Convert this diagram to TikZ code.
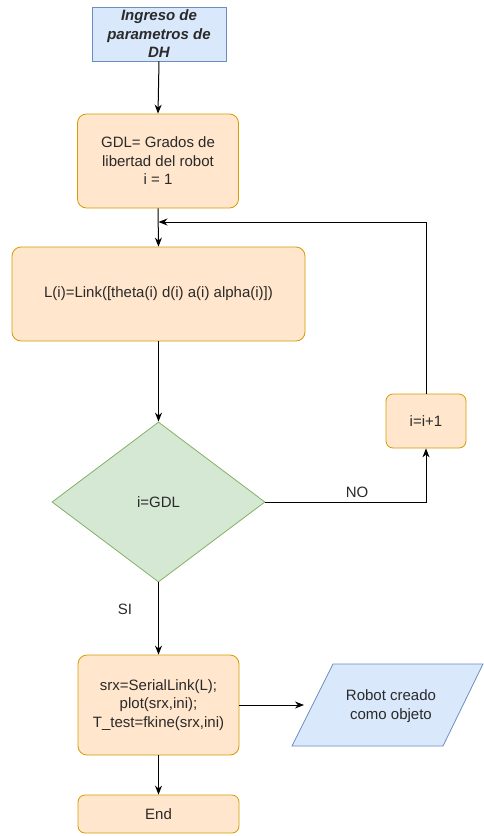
\documentclass[tikz,border=0pt]{standalone}
\usepackage{fontspec}
\setmainfont{Liberation Sans}
\usetikzlibrary{arrows.meta,shapes.geometric}
\definecolor{bluefill}{HTML}{DAE8FC}
\definecolor{bluedraw}{HTML}{6C8EBF}
\definecolor{orangefill}{HTML}{FFE6CC}
\definecolor{orangedraw}{HTML}{D79B00}
\definecolor{greenfill}{HTML}{D5E8D4}
\definecolor{greendraw}{HTML}{82B366}
\definecolor{txt}{HTML}{2A2A2A}
\begin{document}
\begin{tikzpicture}[x=1pt,y=-1pt,
  every node/.style={font=\fontsize{15}{18.5}\selectfont, text=txt, align=center, inner sep=0pt},
  iobox/.style={draw=bluedraw, fill=bluefill, line width=0.8pt},
  procbox/.style={draw=orangedraw, fill=orangefill, line width=0.8pt, rounded corners=9pt},
  decbox/.style={draw=greendraw, fill=greenfill, line width=0.8pt},
  flow/.style={draw=black, line width=1pt, -{Stealth[length=9pt,width=7pt]}},
  lbl/.style={font=\fontsize{15}{18}\selectfont}
]
\useasboundingbox (0,0) rectangle (483,836);

% input parameters
\node[iobox, minimum width=134pt, minimum height=54pt, font=\fontsize{15}{18.5}\selectfont\bfseries\itshape]
  (ingreso) at (159,34) {Ingreso de\\parametros de\\DH};

% initialisation
\node[procbox, minimum width=161pt, minimum height=94pt] (gdl) at (158,161)
  {GDL= Grados de\\libertad del robot\\i = 1};

% link definition
\node[procbox, minimum width=293pt, minimum height=94pt] (link) at (158.5,294)
  {L(i)=Link([theta(i) d(i) a(i) alpha(i)])};

% decision
\node[decbox, diamond, minimum width=213pt, minimum height=160pt, aspect=1.33] (dec) at (158.5,502) {i=GDL};

% increment
\node[procbox, rounded corners=7pt, minimum width=80pt, minimum height=54pt] (inc) at (426,421) {i=i+1};

% serial link creation
\node[procbox, minimum width=161pt, minimum height=100pt] (srx) at (158.5,705)
  {srx=SerialLink(L);\\plot(srx,ini);\\T\_test=fkine(srx,ini)};

% end
\node[procbox, rounded corners=7pt, minimum width=161pt, minimum height=38pt] (fin) at (158.5,814) {End};

% output parallelogram
\coordinate (p1) at (333,664);
\coordinate (p2) at (483,664);
\coordinate (p3) at (443,746);
\coordinate (p4) at (292,746);
\draw[iobox] (p1) -- (p2) -- (p3) -- (p4) -- cycle;
\node (robot) at (391,706) {Robot creado\\como objeto};
\coordinate (robotin) at (304,705);

% connectors
\draw[flow] (ingreso.south) -- (gdl.north);
\draw[flow] (gdl.south) -- (link.north);
\draw[flow] (link.south) -- (dec.north);
\draw[flow] (dec.east) -| (inc.south);
\node[lbl] (nolbl) at (357,492) {NO};
\coordinate (loop) at (link.north |- 0,222);
\draw[flow] (inc.north) |- (loop);
\draw[flow] (dec.south) -- (srx.north);
\node[lbl] (silbl) at (125,609) {SI};
\draw[flow] (srx.east |- 0,705) -- (robotin);
\draw[flow] (srx.south) -- (fin.north);
\end{tikzpicture}
\end{document}
